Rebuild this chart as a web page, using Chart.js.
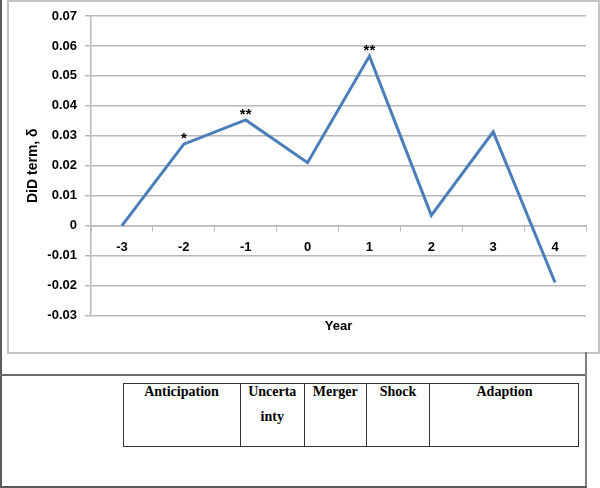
<!DOCTYPE html>
<html>
<head>
<meta charset="utf-8">
<script src="https://cdn.jsdelivr.net/npm/chart.js@4"></script>
<style>
  body { margin: 0; background: #fff; }
  #page { position: relative; width: 600px; height: 488px; overflow: hidden; background: #fff; }
  .ln { position: absolute; }
  #box { position: absolute; left: 7px; top: 0; width: 589px; height: 350px; border: 2px solid #c4c4c4; }
  #chart { position: absolute; left: 0; top: 0; }
  #stages { position: absolute; left: 123px; top: 383px; width: 456px; height: 64px; border: 1px solid #333; box-sizing: border-box; }
  .cell { position: absolute; top: 0; height: 100%; border-left: 1px solid #333; box-sizing: border-box;
          font: bold 14px "Liberation Serif", "Times New Roman", serif; text-align: center; line-height: 24.5px; }
  .cell span { position: relative; top: -4px; display: block; }
</style>
</head>
<body>
<div id="page">
  <div id="box"></div>
  <canvas id="chart" width="600" height="352"></canvas>
  <div class="ln" style="left:0;top:0;width:2px;height:488px;background:#5a5a5a"></div>
  <div class="ln" style="left:0;top:374px;width:587px;height:2px;background:#6a6a6a"></div>
  <div class="ln" style="left:585px;top:352px;width:2px;height:136px;background:#808080"></div>
  <div class="ln" style="left:0;top:486px;width:587px;height:2px;background:#5a5a5a"></div>
  <div id="stages"></div>
</div>
<script>
const years = ['-3', '-2', '-1', '0', '1', '2', '3', '4'];
const did = [0, 0.0272, 0.0353, 0.021, 0.0566, 0.0034, 0.0313, -0.019];
const stars = ['', '*', '**', '', '**', '', '', ''];
const yTicks = { min: -0.03, max: 0.07, step: 0.01 };
const stageNames = ['Anticipation', 'Uncerta<br>inty', 'Merger', 'Shock', 'Adaption'];
const stageEdges = [0, 117, 180.5, 243, 306, 456];

// table of stages under the chart
const stagesEl = document.getElementById('stages');
stageNames.forEach((name, i) => {
    const c = document.createElement('div');
    c.className = 'cell';
    c.style.left = (stageEdges[i] - 1) + 'px';
    c.style.width = (stageEdges[i + 1] - stageEdges[i]) + 'px';
    if (i === 0) c.style.borderLeft = 'none';
    c.innerHTML = '<span>' + name + '</span>';
    stagesEl.appendChild(c);
});

Chart.defaults.font.family = "'Liberation Sans', Arial, sans-serif";
Chart.defaults.color = '#000';

const gridGrey = '#b8b8b8';

const starLabels = {
    id: 'starLabels',
    afterDatasetsDraw(chart) {
        const ctx = chart.ctx;
        const meta = chart.getDatasetMeta(0);
        ctx.save();
        ctx.font = 'bold 15px "Liberation Sans", Arial, sans-serif';
        ctx.fillStyle = '#000';
        ctx.textAlign = 'center';
        ctx.textBaseline = 'alphabetic';
        meta.data.forEach((pt, i) => {
            if (stars[i]) ctx.fillText(stars[i], pt.x, pt.y - 1);
        });
        ctx.restore();
    }
};

const ctx = document.getElementById('chart').getContext('2d');
new Chart(ctx, {
    type: 'line',
    data: {
        labels: years,
        datasets: [{
            data: did,
            borderColor: '#4a7ebb',
            borderWidth: 3,
            pointRadius: 0,
            fill: false,
            tension: 0
        }]
    },
    options: {
        responsive: false,
        animation: false,
        layout: { padding: { left: 0, top: 16, right: 14, bottom: 18 } },
        plugins: {
            legend: { display: false },
            tooltip: { enabled: false },
            title: {
                display: true,
                text: 'Year',
                position: 'bottom',
                fullSize: false,
                color: '#000',
                font: { size: 13, weight: 'bold' },
                padding: { top: 3, bottom: 0 }
            }
        },
        scales: {
            x: {
                type: 'category',
                offset: true,
                position: { y: 0 },
                grid: { offset: true, drawOnChartArea: false, drawTicks: true, tickLength: 5, color: gridGrey },
                border: { color: gridGrey, width: 1.5 },
                ticks: { padding: 9, maxRotation: 0, font: { size: 13, weight: 'bold' } }
            },
            y: {
                min: yTicks.min,
                max: yTicks.max,
                afterFit: (s) => { s.width = 91; },
                grid: { color: gridGrey, lineWidth: 1.5, tickLength: 6 },
                border: { color: gridGrey, width: 1.5 },
                ticks: {
                    stepSize: yTicks.step,
                    padding: 8,
                    font: { size: 13, weight: 'bold' },
                    callback: (v) => String(Math.round(v * 100) / 100)
                },
                title: {
                    display: true,
                    text: 'DiD term, δ',
                    font: { size: 14, weight: 'bold' },
                    padding: { top: 25, bottom: 0 }
                }
            }
        }
    },
    plugins: [starLabels]
});
</script>
</body>
</html>
